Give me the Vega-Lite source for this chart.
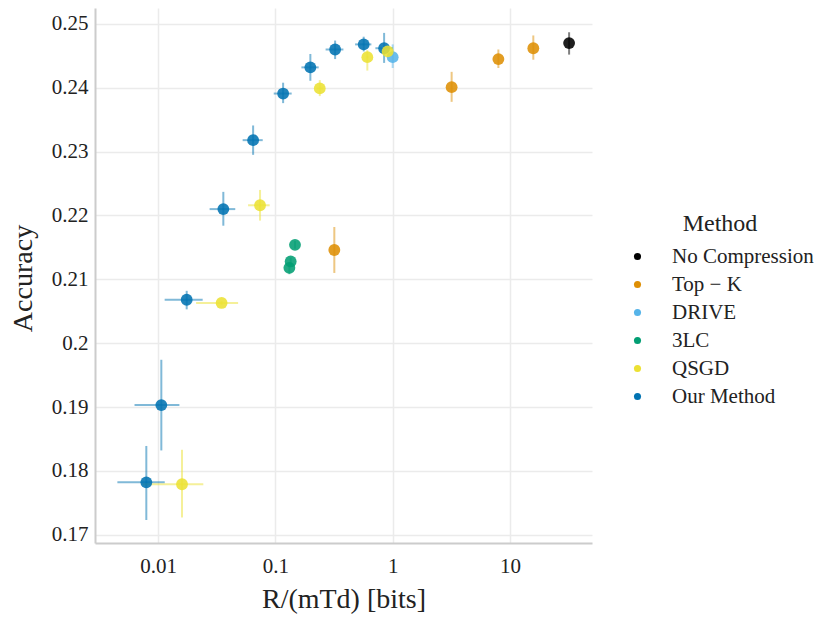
{
  "$schema": "https://vega.github.io/schema/vega-lite/v6.json",
  "autosize": {"type": "none"},
  "width": 497,
  "height": 535,
  "padding": {"left": 95, "top": 8, "right": 248, "bottom": 80},
  "background": "white",
  "config": {
    "font": "Liberation Serif, Times New Roman, serif",
    "view": {"stroke": null},
    "text": {"font": "Liberation Serif, Times New Roman, serif"},
    "axis": {
      "gridColor": "#ebebeb",
      "gridWidth": 1.5,
      "domainColor": "#cccccc",
      "domainWidth": 2,
      "ticks": false,
      "labelFont": "Liberation Serif, Times New Roman, serif",
      "titleFont": "Liberation Serif, Times New Roman, serif",
      "labelFontSize": 21,
      "titleFontSize": 28,
      "labelColor": "#222222",
      "titleColor": "#222222",
      "titleFontWeight": "normal"
    },
    "legend": {
      "labelFont": "Liberation Serif, Times New Roman, serif",
      "titleFont": "Liberation Serif, Times New Roman, serif",
      "labelFontSize": 21,
      "titleFontSize": 24,
      "titleFontWeight": "normal",
      "labelColor": "#222222",
      "titleColor": "#222222"
    }
  },
  "data": {
    "values": [
      {"method": "No Compression", "x": 31.9, "xlo": 31.9, "xhi": 31.9, "y": 0.2470, "ylo": 0.2452, "yhi": 0.2487},
      {"method": "Top − K", "x": 0.318, "xlo": 0.318, "xhi": 0.318, "y": 0.2146, "ylo": 0.2110, "yhi": 0.2182},
      {"method": "Top − K", "x": 3.18, "xlo": 3.18, "xhi": 3.18, "y": 0.2401, "ylo": 0.2378, "yhi": 0.2425},
      {"method": "Top − K", "x": 7.96, "xlo": 7.96, "xhi": 7.96, "y": 0.2445, "ylo": 0.2431, "yhi": 0.2460},
      {"method": "Top − K", "x": 15.8, "xlo": 15.8, "xhi": 15.8, "y": 0.2462, "ylo": 0.2444, "yhi": 0.2482},
      {"method": "3LC", "x": 0.147, "xlo": 0.147, "xhi": 0.147, "y": 0.2154, "ylo": 0.2148, "yhi": 0.2160},
      {"method": "3LC", "x": 0.135, "xlo": 0.135, "xhi": 0.135, "y": 0.2128, "ylo": 0.2122, "yhi": 0.2134},
      {"method": "3LC", "x": 0.1316, "xlo": 0.1316, "xhi": 0.1316, "y": 0.2118, "ylo": 0.2108, "yhi": 0.2126},
      {"method": "Our Method", "x": 0.00794, "xlo": 0.0045, "xhi": 0.0114, "y": 0.1782, "ylo": 0.1723, "yhi": 0.1839},
      {"method": "Our Method", "x": 0.01066, "xlo": 0.0063, "xhi": 0.0152, "y": 0.1903, "ylo": 0.1832, "yhi": 0.1974},
      {"method": "Our Method", "x": 0.01754, "xlo": 0.01138, "xhi": 0.0240, "y": 0.2068, "ylo": 0.2053, "yhi": 0.2082},
      {"method": "Our Method", "x": 0.0360, "xlo": 0.0275, "xhi": 0.0455, "y": 0.2210, "ylo": 0.2184, "yhi": 0.2237},
      {"method": "Our Method", "x": 0.0646, "xlo": 0.0526, "xhi": 0.078, "y": 0.2318, "ylo": 0.2295, "yhi": 0.2341},
      {"method": "Our Method", "x": 0.1164, "xlo": 0.0968, "xhi": 0.1377, "y": 0.2391, "ylo": 0.2376, "yhi": 0.2408},
      {"method": "Our Method", "x": 0.1987, "xlo": 0.1667, "xhi": 0.234, "y": 0.2432, "ylo": 0.2411, "yhi": 0.2453},
      {"method": "Our Method", "x": 0.323, "xlo": 0.268, "xhi": 0.380, "y": 0.2460, "ylo": 0.2445, "yhi": 0.2474},
      {"method": "Our Method", "x": 0.566, "xlo": 0.478, "xhi": 0.658, "y": 0.2468, "ylo": 0.2457, "yhi": 0.2480},
      {"method": "Our Method", "x": 0.845, "xlo": 0.712, "xhi": 1.0, "y": 0.2462, "ylo": 0.2439, "yhi": 0.2486},
      {"method": "DRIVE", "x": 1.0, "xlo": 1.0, "xhi": 1.0, "y": 0.2448, "ylo": 0.2431, "yhi": 0.2468},
      {"method": "QSGD", "x": 0.016, "xlo": 0.0074, "xhi": 0.0243, "y": 0.1779, "ylo": 0.1727, "yhi": 0.1833},
      {"method": "QSGD", "x": 0.0348, "xlo": 0.0211, "xhi": 0.0481, "y": 0.2063, "ylo": 0.2060, "yhi": 0.2066},
      {"method": "QSGD", "x": 0.074, "xlo": 0.0585, "xhi": 0.0894, "y": 0.2216, "ylo": 0.2192, "yhi": 0.2240},
      {"method": "QSGD", "x": 0.239, "xlo": 0.225, "xhi": 0.255, "y": 0.2399, "ylo": 0.2387, "yhi": 0.2412},
      {"method": "QSGD", "x": 0.608, "xlo": 0.60, "xhi": 0.62, "y": 0.2448, "ylo": 0.2427, "yhi": 0.2459},
      {"method": "QSGD", "x": 0.906, "xlo": 0.90, "xhi": 0.92, "y": 0.2457, "ylo": 0.2450, "yhi": 0.2464}
    ]
  },
  "resolve": {"legend": {"color": "independent"}},
  "layer": [
    {
      "mark": {"type": "rule", "strokeWidth": 2, "opacity": 0.5},
      "encoding": {
        "x": {"field": "x", "type": "quantitative"},
        "y": {"field": "ylo", "type": "quantitative"},
        "y2": {"field": "yhi"},
        "color": {
          "field": "method", "type": "nominal", "legend": null,
          "scale": {
            "domain": ["No Compression", "Top − K", "DRIVE", "3LC", "QSGD", "Our Method"],
            "range": ["#000000", "#DE8F05", "#56B4E9", "#029E73", "#ECE133", "#0173B2"]
          }
        }
      }
    },
    {
      "mark": {"type": "rule", "strokeWidth": 2, "opacity": 0.5},
      "encoding": {
        "x": {"field": "xlo", "type": "quantitative"},
        "x2": {"field": "xhi"},
        "y": {"field": "y", "type": "quantitative"},
        "color": {"field": "method", "type": "nominal", "legend": null}
      }
    },
    {
      "mark": {"type": "point", "shape": "circle", "filled": true, "size": 140, "opacity": 0.88},
      "encoding": {
        "x": {
          "field": "x",
          "type": "quantitative",
          "scale": {"type": "log", "domain": [0.0029, 50], "nice": false},
          "axis": {
            "title": "R/(mTd) [bits]",
            "values": [0.01, 0.1, 1, 10],
            "format": "~g",
            "labelPadding": 12,
            "titleBaseline": "alphabetic",
            "titleY": 64
          }
        },
        "y": {
          "field": "y",
          "type": "quantitative",
          "scale": {"domain": [0.1687, 0.2525], "nice": false, "zero": false},
          "axis": {
            "title": "Accuracy",
            "values": [0.17, 0.18, 0.19, 0.2, 0.21, 0.22, 0.23, 0.24, 0.25],
            "format": "~g",
            "labelPadding": 7,
            "titleX": -72,
            "titleY": 270,
            "titleBaseline": "middle"
          }
        },
        "color": {
          "field": "method",
          "type": "nominal",
          "legend": {
            "title": "Method",
            "orient": "none",
            "legendX": 532,
            "legendY": 204,
            "titleAnchor": "middle",
            "titlePadding": 10,
            "symbolType": "circle",
            "symbolSize": 50,
            "symbolOpacity": 1,
            "symbolStrokeWidth": 0,
            "labelOffset": 24,
            "rowPadding": 6
          }
        }
      }
    }
  ]
}
